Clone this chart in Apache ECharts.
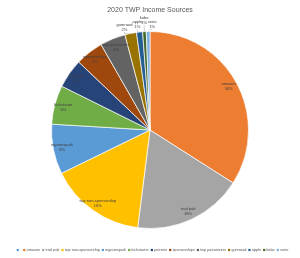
<!DOCTYPE html>
<html><head><meta charset="utf-8">
<script src="https://cdn.jsdelivr.net/npm/echarts@6/dist/echarts.min.js"></script>
<style>html,body{margin:0;padding:0;background:#fff}#c{width:300px;height:258px}</style>
</head><body><div id="c"></div>
<script>
var title = '2020 TWP Income Sources';
var categories = [' ', 'amazon', 'trad pub', 'twp non-sponsorship', 'ingramspark', 'kickstarter', 'patreon', 'sponsorships', 'twp patronizers', 'gumroad', 'apple', 'kobo', 'serio'];
var values = [0, 34.1, 18.0, 15.8, 8.2, 6.4, 4.8, 4.6, 4.2, 1.9, 1.0, 0.6, 0.6];
var palette = ['#5B9BD5','#ED7D31','#A5A5A5','#FFC000','#5B9BD5','#70AD47','#264478','#9E480E','#636363','#997300','#255E91','#43682B','#7CAFDD'];
var smallCats = ['gumroad','apple','kobo','serio'];
var leaderLen = {gumroad: [1, 6], apple: [2, 2], kobo: [6, 0], serio: [2, 0]};
var labelShift = {serio: 4};

var total = values.reduce(function(a,b){return a+b;},0);
function pct(v){ return Math.round(v/total*100) + '%'; }

var R = 98.5;
var mainData = categories.map(function(c,i){
  var small = smallCats.indexOf(c) >= 0;
  var ll = leaderLen[c] || [4, 0];
  return {
    name: c, value: values[i],
    itemStyle: {color: palette[i]},
    label: {show: small && values[i] > 0},
    labelLine: {show: small, length: ll[0], length2: ll[1]}
  };
});
var overlayData = categories.map(function(c,i){
  var small = smallCats.indexOf(c) >= 0;
  return {
    name: c, value: values[i],
    itemStyle: {color: 'rgba(0,0,0,0)', borderWidth: 0},
    label: {show: !small && values[i] > 0}
  };
});

var rich = {t: {fontSize: 3.8, color: '#595959', fontFamily: 'Liberation Sans', padding: [0,0,0,1.2]}};
categories.forEach(function(c,i){
  rich['m'+i] = {backgroundColor: palette[i], width: 2.2, height: 2.2, fontSize: 2, lineHeight: 2.2};
});

var chart = echarts.init(document.getElementById('c'), null, {renderer: 'canvas'});
chart.setOption({
  animation: false,
  title: {text: title, left: 'center', top: 2, textStyle: {fontSize: 7, fontWeight: 'normal', color: '#595959', fontFamily: 'Liberation Sans'}},
  legend: {
    bottom: 1, left: 'center', data: categories, width: 296,
    icon: 'none', itemWidth: 0, itemHeight: 3, itemGap: -3,
    formatter: function(name){ var i = categories.indexOf(name); return '{m'+i+'| }{t|' + name + '}'; },
    textStyle: {fontSize: 3.8, color: '#595959', fontFamily: 'Liberation Sans', rich: rich},
    selectedMode: false
  },
  series: [{
    type: 'pie', center: [150, 130], radius: [0, R], startAngle: 90, clockwise: true,
    avoidLabelOverlap: false, silent: true, percentPrecision: 2,
    labelLayout: function(p){
      var n = categories[p.dataIndex];
      if (smallCats.indexOf(n) < 0 || !p.labelLinePoints) return {};
      var end = p.labelLinePoints[p.labelLinePoints.length - 1];
      return {x: end[0] + (labelShift[n] || 0), y: end[1] - 0.5, align: 'center', verticalAlign: 'bottom'};
    },
    itemStyle: {borderColor: '#fff', borderWidth: 0.7},
    label: {position: 'outside', fontSize: 4, lineHeight: 5, color: '#404040', fontFamily: 'Liberation Sans',
      formatter: function(p){ return p.name + '\n' + pct(p.value); }},
    labelLine: {lineStyle: {color: '#A6A6A6', width: 0.5}},
    data: mainData
  }, {
    type: 'pie', center: [150, 130], radius: [R*0.76, R], startAngle: 90, clockwise: true,
    silent: true, legendHoverLink: false,
    label: {position: 'inside', fontSize: 4, lineHeight: 5, color: '#404040', fontFamily: 'Liberation Sans',
      formatter: function(p){ return p.name + '\n' + pct(p.value); }},
    labelLine: {show: false},
    data: overlayData
  }]
});
</script></body></html>
